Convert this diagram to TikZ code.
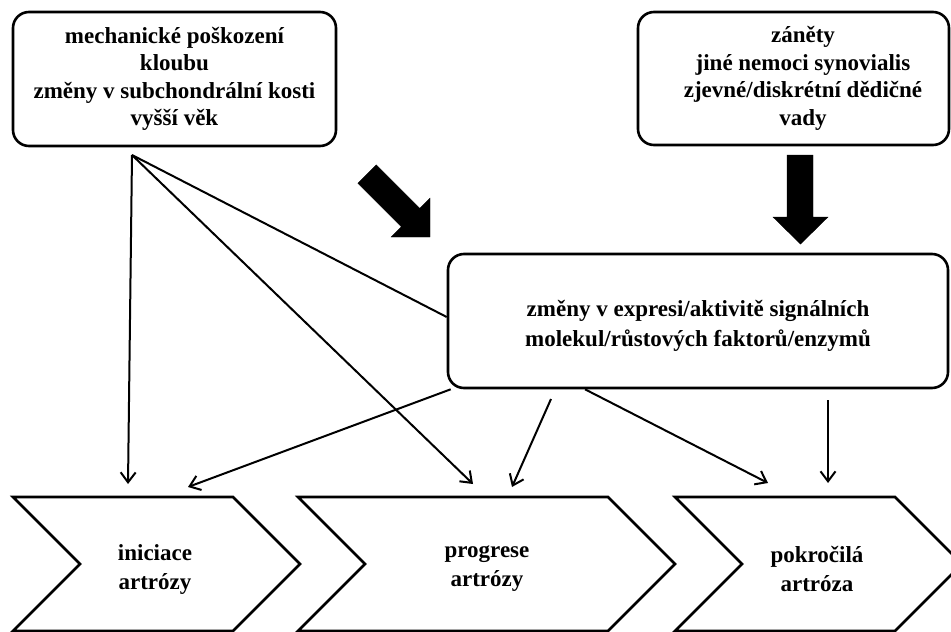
\documentclass[tikz,border=0pt]{standalone}
\usepackage{fontspec}
\setmainfont{Liberation Serif}
\usetikzlibrary{arrows.meta,calc}
\begin{document}
\begin{tikzpicture}[x=1pt,y=-1pt,
  box/.style={draw,line width=2.6pt,rounded corners=16pt,inner sep=0pt},
  txt/.style={font=\bfseries\fontsize{23}{27.5}\selectfont,align=center,inner sep=0pt},
  ctxt/.style={font=\bfseries\fontsize{23}{29}\selectfont,align=center,inner sep=0pt},
  conn/.style={line width=2pt,-{Straight Barb[length=10pt,width=15pt,line width=2pt]}},
  link/.style={line width=2pt},
  chev/.style={draw,line width=2.6pt,line join=miter},
  bigarrow/.style={fill=black}]
\clip (0,0) rectangle (951,632);
% boxes
\node[box,minimum width=323pt,minimum height=134pt] (tl) at (174.5,79) {};
\node[txt] (tltext) at (174.5,79) {mechanické poškození\\kloubu\\změny v subchondrální kosti\\vyšší věk};
\node[box,minimum width=311pt,minimum height=133pt] (tr) at (793.5,78.5) {};
\node[txt] (trtext) at (803,78.5) {záněty\\jiné nemoci synovialis\\zjevné/diskrétní dědičné\\vady};
\node[box,minimum width=500pt,minimum height=134pt] (mid) at (698,321) {};
\node[font=\bfseries\fontsize{23}{30}\selectfont,align=center,inner sep=0pt] (midtext) at (698,326) {změny v expresi/aktivitě signálních\\molekul/růstových faktorů/enzymů};
% chevrons
\draw[chev] (13,497) -- (233,497) -- (300,564) -- (233,631) -- (13,631) -- (80,564) -- cycle;
\node[ctxt] (c1) at (155,569) {iniciace\\artrózy};
\draw[chev] (298,497) -- (608,497) -- (675,564) -- (608,631) -- (298,631) -- (365,564) -- cycle;
\node[ctxt] (c2) at (487,568.5) {progrese\\artrózy};
\draw[chev] (675,497) -- (895,497) -- (962,564) -- (895,631) -- (675,631) -- (742,564) -- cycle;
\node[ctxt] (c3) at (817,569) {pokročilá\\artróza};
% big block arrows
\draw[bigarrow] (376.3,164.9) -- (419.8,208.4) -- (430,198.2) -- (430,237) -- (391.2,237) -- (401.4,226.8) -- (357.9,183.3) -- cycle;
\draw[bigarrow] (787,155) -- (813,155) -- (813,217) -- (828,217) -- (800.5,244) -- (773,217) -- (787,217) -- cycle;
% connector points
\coordinate (hub) at (132,155);
\coordinate (a1) at (128,484);
\coordinate (a2) at (473,484);
\coordinate (b1) at (188,487);
\coordinate (s2) at (551,399);
\coordinate (b2) at (512,487);
\coordinate (b3) at (768,483);
\coordinate (s4) at (828,400);
\coordinate (b4) at (828,483);
% connectors
\draw[conn] (hub) -- (a1);
\draw[conn] (hub) -- (a2);
\draw[link] (hub) -- ($(mid.west)+(0,-4)$);
\draw[conn] ($(mid.south west)+(4,0)$) -- (b1);
\draw[conn] (s2) -- (b2);
\draw[conn] ($(mid.south)+(-113,0)$) -- (b3);
\draw[conn] (s4) -- (b4);
\end{tikzpicture}
\end{document}
